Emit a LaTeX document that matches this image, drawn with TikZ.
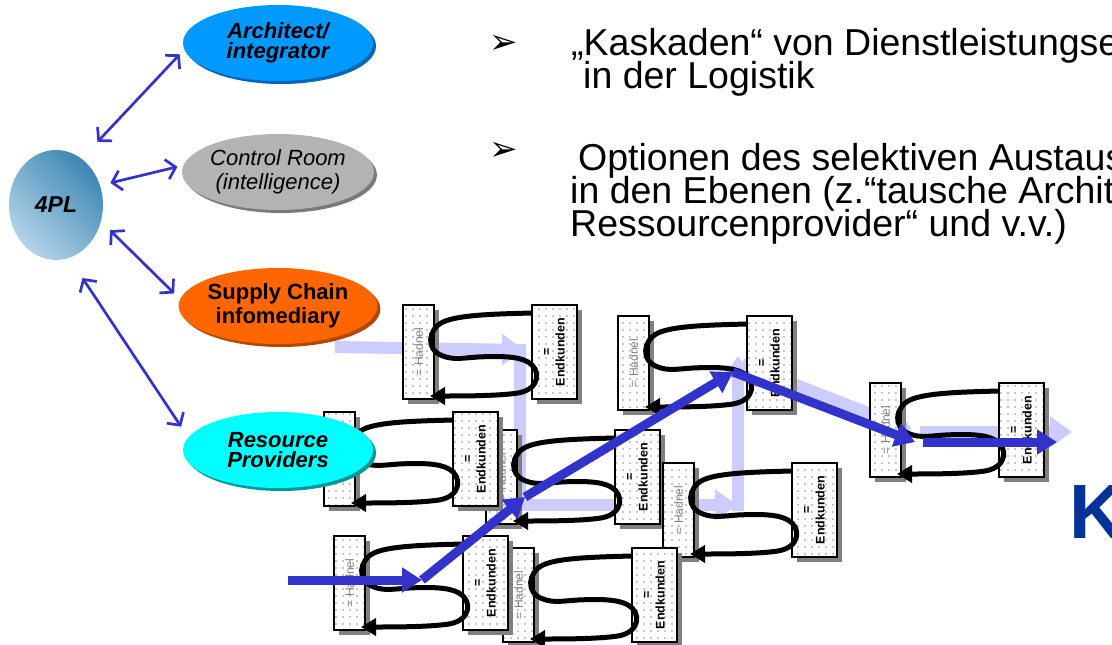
\documentclass[tikz,border=0pt]{standalone}
\usepackage{fontspec}
\setmainfont{Liberation Sans}
\newfontfamily\dejavu{DejaVu Sans}
\usetikzlibrary{arrows.meta,shapes.geometric,patterns.meta,shadows}
\definecolor{flow}{HTML}{3333CC}
\definecolor{lav}{HTML}{CCCCFF}
\definecolor{kblue}{HTML}{003399}
\definecolor{archfill}{HTML}{0099FF}
\definecolor{archdark}{HTML}{0066B8}
\definecolor{ctrlfill}{HTML}{B3B3B3}
\definecolor{ctrldark}{HTML}{7A7A7A}
\definecolor{supfill}{HTML}{FF6600}
\definecolor{supdark}{HTML}{B34700}
\definecolor{resfill}{HTML}{00FFFF}
\definecolor{resdark}{HTML}{009999}
\definecolor{plLight}{HTML}{B4D4E8}
\definecolor{plDark}{HTML}{3D86B3}
\tikzset{
  hbox/.style={drop shadow={shadow xshift=5pt,shadow yshift=-5pt,fill=black!50,opacity=1},
    preaction={fill=white}, pattern={Dots[distance=7pt,radius=0.8pt]}, pattern color=black!45,
    draw=black, line width=1.6pt, inner sep=0pt, outer sep=0pt, anchor=north west,
    minimum width=31pt, minimum height=94pt},
  ebox/.style={hbox, minimum width=45pt},
  htext/.style={rotate=90, text=black!50, inner sep=0pt, font=\fontsize{12pt}{13pt}\selectfont},
  etext/.style={rotate=90, inner sep=0pt, align=center, font=\bfseries\fontsize{12.5pt}{14pt}\selectfont},
  sloop/.style={draw=black, line width=5pt, line join=round, -{Triangle[length=15pt,width=17pt]}},
  bub/.style={ellipse, inner sep=0pt, minimum width=190pt, minimum height=76pt, align=center,
    font=\bfseries\itshape\fontsize{22pt}{20pt}\selectfont},
  dbl/.style={draw=flow, line width=2.7pt, {Straight Barb[length=9pt,width=20pt]}-{Straight Barb[length=9pt,width=20pt]}},
  flowarrow/.style={draw=flow, line width=9pt, -{Triangle[length=20pt,width=24pt]}},
  lavarrow/.style={draw=lav, line width=12pt, -{Triangle[length=22pt,width=30pt]}},
  lavline/.style={draw=lav, line width=12pt},
  bodytext/.style={anchor=base west, inner sep=0pt, font=\fontsize{37.5pt}{33pt}\selectfont},
  bullet/.style={anchor=base west, inner sep=0pt, font=\dejavu\fontsize{34pt}{34pt}\selectfont}
}
\newcommand\cunit[3]{%
  \begin{scope}[shift={(#2,#3)}]
    \node[hbox] (#1h) at (0,0) {};
    \node[htext] (#1ht) at (#1h.center) {= Hadnel};
    \node[ebox] (#1e) at (129,0) {};
    \node[etext] (#1et) at (#1e.center) {=\\Endkunden};
    \draw[sloop] ([yshift=-8pt]#1e.north west) .. controls (90,9) and (55,10) .. (40,17)
      .. controls (25,24) and (22,45) .. (40,51)
      .. controls (50,55) and (60,53) .. (75,52)
      .. controls (95,51) and (115,51) .. (125,57)
      .. controls (138,64) and (138,84) .. (115,88)
      .. controls (95,91) and (60,91) .. ([xshift=-4pt,yshift=-91pt]#1h.north east);
  \end{scope}}
\begin{document}
\begin{tikzpicture}[x=1pt,y=-1pt]
\useasboundingbox (0,0) rectangle (1112,645);
\clip (0,0) rectangle (1112,645);
\fill[white] (0,0) rectangle (1112,645);

% light flow (background)
\coordinate (l0) at (335,347);
\coordinate (l1) at (524,350);
\coordinate (l1b) at (520,344);
\coordinate (l2) at (520,505);
\coordinate (l2b) at (514,505);
\coordinate (l3) at (737,505);
\coordinate (l3b) at (738,511);
\coordinate (l4) at (738,356);
\coordinate (l4b) at (742,364);
\coordinate (l5) at (912,430);
\coordinate (l6) at (920,432);
\coordinate (l7) at (1072,432);
\draw[lavarrow] (l0) -- (l1);
\draw[lavline] (l1b) -- (l2);
\draw[lavarrow] (l2b) -- (l3);
\draw[lavarrow] (l3b) -- (l4);
\draw[lavarrow] (l4b) -- (l5);
\draw[lavarrow] (l6) -- (l7);

% cascade units
\cunit{u1}{403}{305}
\cunit{u4}{618}{316}
\cunit{u6}{870}{383}
\cunit{u3}{486}{430}
\cunit{u2}{324}{412}
\cunit{u5}{663}{463}
\cunit{u8}{503}{548}
\cunit{u7}{334}{536}

% roles
\node[ellipse, minimum width=94pt, minimum height=110pt, inner sep=0pt,
  top color=plDark, bottom color=plLight, shading angle=-45,
  font=\bfseries\itshape\fontsize{23pt}{23pt}\selectfont] (pl) at (56,205) {4PL};
\node[bub, fill=archfill, drop shadow={shadow xshift=3pt,shadow yshift=-3pt,fill=archdark,opacity=1}] (arch) at (278,43) {Architect/\\integrator};
\node[bub, fill=ctrlfill, drop shadow={shadow xshift=3pt,shadow yshift=-3pt,fill=ctrldark,opacity=1},
  font=\itshape\fontsize{22pt}{24pt}\selectfont] (ctrl) at (278,172) {Control Room\\(intelligence)};
\node[bub, fill=supfill, drop shadow={shadow xshift=3pt,shadow yshift=-3pt,fill=supdark,opacity=1},
  font=\bfseries\fontsize{22pt}{24pt}\selectfont] (sup) at (278,306) {Supply Chain\\infomediary};
\node[bub, fill=resfill, drop shadow={shadow xshift=3pt,shadow yshift=-3pt,fill=resdark,opacity=1}] (res) at (278,450) {Resource\\Providers};

\draw[dbl, shorten <=23pt, shorten >=6.5pt] (pl.61.6) -- (arch.184.5);
\draw[dbl, shorten <=10.5pt, shorten >=6pt] (pl.24.3) -- (ctrl.176.8);
\draw[dbl, shorten <=12.6pt, shorten >=8.2pt] (pl.340) -- (sup.176.8);
\draw[dbl, shorten <=24pt, shorten >=12.8pt] (pl.284.6) -- (res.172.2);

% strong flow
\coordinate (b0) at (288,580);
\coordinate (b1) at (422,580);
\coordinate (b2) at (525,497);
\coordinate (b3) at (733,372);
\coordinate (b4) at (915,442);
\coordinate (b5) at (923,442);
\coordinate (b6) at (1057,442);
\draw[flowarrow] (b0) -- (b1);
\draw[flowarrow] (b1) -- (b2);
\draw[flowarrow] (b2) -- (b3);
\draw[flowarrow] (b3) -- (b4);
\draw[flowarrow] (b5) -- (b6);

% text
\node[bullet] (bu1) at (489,53) {➢};
\node[bodytext] (t1) at (571,55) {„Kaskaden“ von Dienstleistungse};
\node[bodytext] (t2) at (583,88) {in der Logistik};
\node[bullet] (bu2) at (489,160) {➢};
\node[bodytext] (t3) at (578,170) {Optionen des selektiven Austaus};
\node[bodytext] (t4) at (570,203) {in den Ebenen (z.“tausche Archit};
\node[bodytext] (t5) at (570,236) {Ressourcenprovider“ und v.v.)};
\node[anchor=base west, inner sep=0pt, text=kblue, font=\bfseries\fontsize{77pt}{77pt}\selectfont] (kk) at (1069,538) {K};
\end{tikzpicture}
\end{document}
